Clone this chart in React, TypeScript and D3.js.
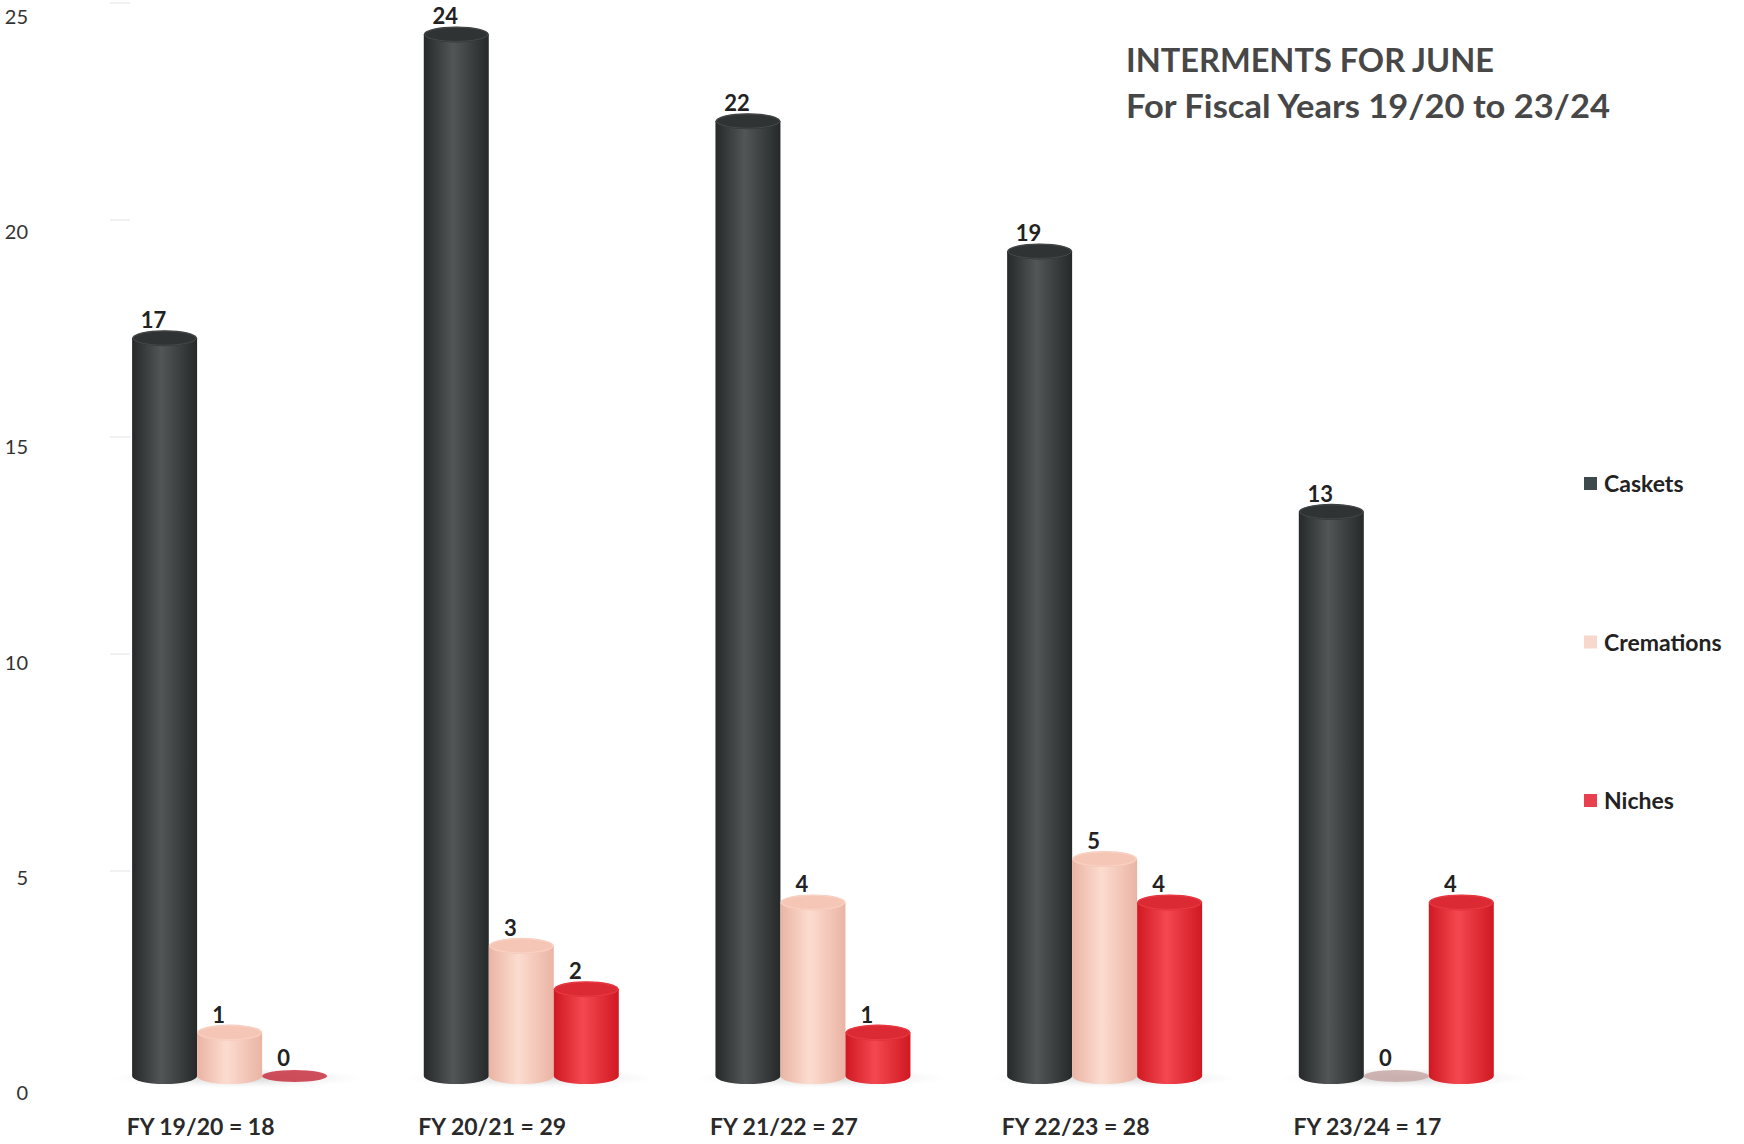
import React from "react";
import * as d3 from "d3";

const categories = ["FY 19/20 = 18", "FY 20/21 = 29", "FY 21/22 = 27", "FY 22/23 = 28", "FY 23/24 = 17"];
const seriesNames = ["Caskets", "Cremations", "Niches"];
const caskets = [17, 24, 22, 19, 13];
const cremations = [1, 3, 4, 5, 0];
const niches = [0, 2, 1, 4, 4];
const yTicks = [0, 5, 10, 15, 20, 25];
const titleLines = ["INTERMENTS FOR JUNE", "For Fiscal Years 19/20 to 23/24"];

const seriesValues = [caskets, cremations, niches];
const colors = [
  { dark: "#262929", mid: "#525656", top: "#303333", legend: "#3c4a4e" },
  { dark: "#eab4a4", mid: "#fcdcd0", top: "#f5c6b6", legend: "#f8d8cc" },
  { dark: "#d01822", mid: "#f44850", top: "#dc2a34", legend: "#e8404c" },
];

const W = 1744;
const H = 1144;
const FONT = "Lato, 'Open Sans', sans-serif";

export default function App() {
  const y = d3.scaleLinear().domain([0, 25]).range([1076, 1076 - 25 * 43.4]);
  const yLabel = d3.scaleLinear().domain([0, 25]).range([1093, 17]);
  const x = d3.scalePoint<string>().domain(categories).range([229.6, 1396.3]);
  const inner = d3.scaleBand<string>().domain(seriesNames).range([-97.5, 97.5]).padding(0);
  const bw = 65;
  const ry = 8;
  const titleWidths = [368, 484];

  return (
    <svg width={W} height={H} style={{ position: "absolute", left: 0, top: 0, background: "#fff" }}>
      <defs>
        {colors.map((c, i) => (
          <linearGradient key={i} id={`g${i}`} x1="0" x2="1" y1="0" y2="0">
            <stop offset="0" stopColor={c.dark} />
            <stop offset="0.45" stopColor={c.mid} />
            <stop offset="1" stopColor={c.dark} />
          </linearGradient>
        ))}
        <radialGradient id="shadow">
          <stop offset="0" stopColor="#bbb" stopOpacity="0.7" />
          <stop offset="1" stopColor="#ddd" stopOpacity="0" />
        </radialGradient>
      </defs>
      <rect width={W} height={H} fill="#fff" />
      {yTicks.map((t) => (
        <text key={t} x={28} y={yLabel(t)} dy="0.35em" textAnchor="end" fontFamily={FONT} fontSize={20} fill="#333">
          {t}
        </text>
      ))}
      {yTicks.slice(1).map((t) => (
        <line key={t} x1={110} x2={130} y1={y(t) + 12} y2={y(t) + 12} stroke="#e4e4e4" strokeWidth={1} />
      ))}
      {categories.map((c) => (
        <ellipse key={c} cx={(x(c) as number) + 8} cy={y(0) + 2} rx={125} ry={10} fill="url(#shadow)" />
      ))}
      {categories.map((c, ci) =>
        seriesNames.map((s, si) => {
          const v = seriesValues[si][ci];
          const cx = (x(c) as number) + (inner(s) as number) + inner.bandwidth() / 2;
          const yb = y(0);
          const yt = y(v);
          const l = cx - bw / 2;
          const r = cx + bw / 2;
          const col = colors[si];
          const body = `M${l},${yt} L${l},${yb} A${bw / 2},${ry} 0 0 0 ${r},${yb} L${r},${yt} Z`;
          return (
            <g key={c + s}>
              {v > 0 ? (
                <>
                  <path d={body} fill={`url(#g${si})`} />
                  <ellipse cx={cx} cy={yt} rx={bw / 2} ry={ry} fill={col.top} />
                  <ellipse cx={cx} cy={yt} rx={bw / 2 - 1} ry={ry - 1} fill="none" stroke={col.mid} strokeOpacity={0.6} strokeWidth={1} />
                </>
              ) : (
                <ellipse cx={cx} cy={yb} rx={bw / 2} ry={ry - 2} fill={si === 2 ? "#c83040" : "#c8a8a8"} opacity={0.85} />
              )}
              <text x={cx - 11} y={yt - 10} textAnchor="middle" fontFamily={FONT} fontWeight="bold" fontSize={22} fill="#222">
                {v}
              </text>
            </g>
          );
        })
      )}
      {categories.map((c) => (
        <text key={c} x={(x(c) as number) - 29} y={1127} dy="0.35em" textAnchor="middle" fontFamily={FONT} fontWeight="bold" fontSize={23} fill="#2a2a2a">
          {c}
        </text>
      ))}
      {titleLines.map((t, i) => (
        <text key={t} x={1126} y={72 + i * 46} fontFamily={FONT} fontWeight="bold" fontSize={33} fill="#474747" textLength={titleWidths[i]} lengthAdjust="spacingAndGlyphs">
          {t}
        </text>
      ))}
      {seriesNames.map((s, i) => (
        <g key={s} transform={`translate(1584, ${484 + i * 158.5})`}>
          <rect x={0} y={-7} width={13} height={13} fill={colors[i].legend} />
          <text x={20} y={0} dy="0.35em" fontFamily={FONT} fontWeight="bold" fontSize={23} fill="#222">
            {s}
          </text>
        </g>
      ))}
    </svg>
  );
}
